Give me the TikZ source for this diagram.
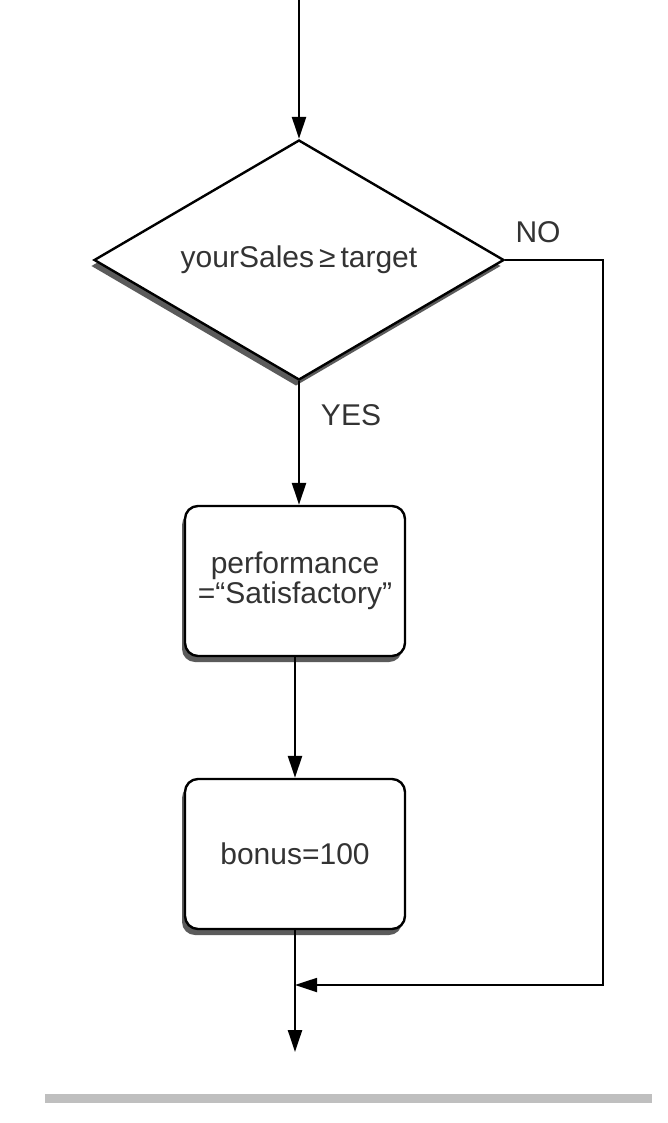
\documentclass[tikz,border=0pt]{standalone}
\usepackage{fontspec}
\setmainfont{Liberation Sans}
\usetikzlibrary{shapes.geometric,arrows.meta,shadows}
\begin{document}
\begin{tikzpicture}[x=1pt,y=-1pt,
  txt/.style={font=\fontsize{30}{34}\selectfont, text=black!80},
  shad/.style={drop shadow={shadow xshift=-3pt,shadow yshift=-6pt,opacity=0.8,fill=black!80}},
  decision/.style={draw=black, line width=2.4pt, diamond, aspect=1.7, fill=white, inner sep=0pt,
     minimum width=410pt, minimum height=240pt, shad, txt},
  procbox/.style={draw=black, line width=2.4pt, rectangle, rounded corners=13pt, fill=white,
     minimum width=220pt, minimum height=150pt, align=center, shad, txt},
  flow/.style={draw=black, line width=2.4pt, -{Triangle[length=22pt,width=14pt]}},
  loopline/.style={draw=black, line width=1.8pt, -{Triangle[length=22pt,width=14pt]}},
  lbl/.style={txt, inner sep=0pt}]
\useasboundingbox (0,0) rectangle (668,1123);
\fill[white] (0,0) rectangle (668,1123);
% scanned page rule at bottom
\fill[black!25] (45,1094) rectangle (652,1103);

\coordinate (start) at (299,0);
\node[decision] (cond) at (299,260) {yourSales\,≥\,target};
\node[procbox] (perf) at (295,581) {performance\\[-4pt]=“Satisfactory”};
\node[procbox] (bonus) at (295,854) {bonus=100};
\coordinate (merge) at (295,985);
\coordinate (endp) at (295,1052);
\coordinate (corner) at (603,260);

\node[lbl] (no) at (538,232) {NO};
\node[lbl] (yes) at (351,415) {YES};

\draw[flow] (start) -- (cond.north);
\draw[flow] (cond.south) -- (cond.south |- perf.north);
\draw[flow] (perf.south) -- (bonus.north);
\draw[flow] (bonus.south) -- (endp);
\draw[loopline] (cond.east) -- (corner) |- (merge);
\end{tikzpicture}
\end{document}
